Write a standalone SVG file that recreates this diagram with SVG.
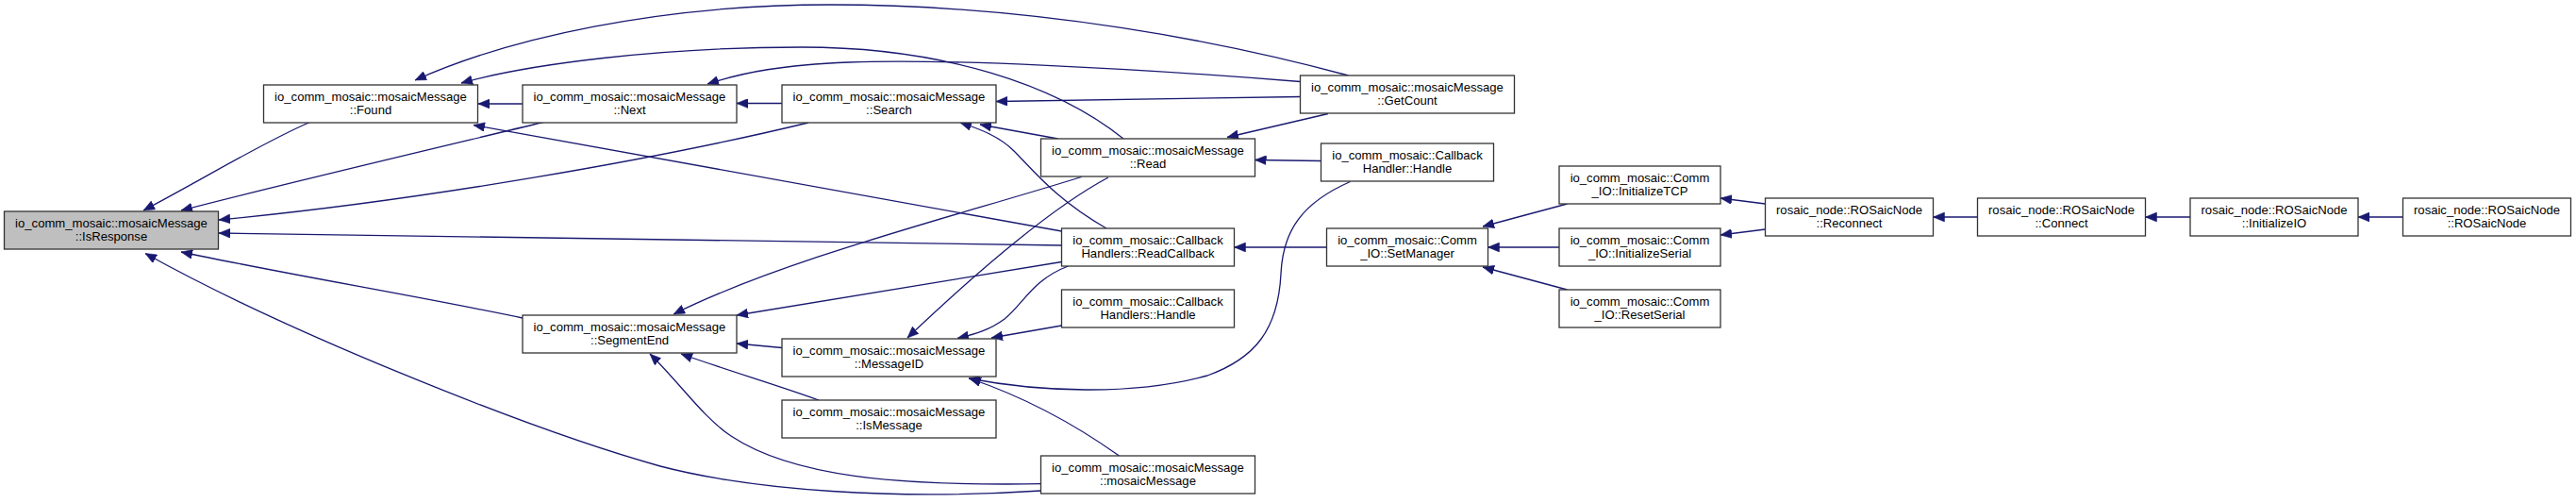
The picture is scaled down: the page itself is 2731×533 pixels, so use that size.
<svg xmlns="http://www.w3.org/2000/svg" width="2731" height="533" viewBox="0 0 2731 533">
<style>
.n rect{fill:#ffffff;stroke:#333333;stroke-width:1.3}
.n.sel rect{fill:#bfbfbf}
.n text{font-family:"Liberation Sans",Arial,sans-serif;font-size:13.1px;fill:#000;text-anchor:middle}
.e path{fill:none;stroke:#191970;stroke-width:1.3;marker-end:url(#ah)}
</style>
<defs>
<marker id="ah" markerUnits="userSpaceOnUse" viewBox="0 0 12 10" markerWidth="12" markerHeight="10" refX="12" refY="5" orient="auto">
<path d="M0,0 L12,5 L0,10 z" fill="#191970" stroke="#191970" stroke-width="0.5"/>
</marker>
</defs>
<rect x="0" y="0" width="2731" height="533" fill="#ffffff"/>
<g id="edges" class="e">
<path d="M328.6,129.5 C280,150 215,190 152,223"/>
<path d="M576,129.5 C470,155 300,195 192,223"/>
<path d="M857,130 C700,168 450,212 232,233"/>
<path d="M1125.5,260 L232,247"/>
<path d="M554,337 C450,315 300,290 192,267"/>
<path d="M1104,520 C950,530 800,520 700,494 C560,455 300,350 154,268.5"/>
<path d="M554,110 L507,110"/>
<path d="M1429.5,80 C1300,45 1100,5 880,5 C700,5 540,40 440,85"/>
<path d="M1191,147 C1120,90 1000,50 850,50 C700,50 560,68 489,88"/>
<path d="M1125.5,245 L502,132.5"/>
<path d="M829,109.5 L781,109.5"/>
<path d="M1378.5,86.5 C1200,72 1000,62 900,66 C830,69 790,76 750,89"/>
<path d="M1378.5,102.5 L1056,107.5"/>
<path d="M1408,120.5 L1301,145.5"/>
<path d="M1121.5,147 L1039,132"/>
<path d="M1173,242 C1120,212 1095,180 1075,160 C1060,145 1040,137 1018,130"/>
<path d="M1400.5,170.5 L1330.5,169.5"/>
<path d="M1406.5,262 L1308.5,262"/>
<path d="M1146.5,187.5 C1010,230 830,275 714,333"/>
<path d="M1125.5,277.5 L781,334"/>
<path d="M829,368.5 L781,364"/>
<path d="M868,424 C830,410 770,392 722,375"/>
<path d="M1104,512.7 C950,515 840,505 775,462 C745,442 720,405 689,375"/>
<path d="M1175,188 C1130,212 1060,265 962,358"/>
<path d="M1132.5,282 C1095,296 1085,322 1065,338 C1050,349 1035,354 1015,358.5"/>
<path d="M1125.5,345 L1051,358"/>
<path d="M1431.5,192.5 C1380,215 1360,245 1358,290 C1355,350 1330,380 1280,398 C1200,420 1100,415 1027,401"/>
<path d="M1186.5,483 C1140,450 1090,422 1028,401"/>
<path d="M1661.5,216 L1572,240"/>
<path d="M1653,262 L1577.5,262"/>
<path d="M1661.5,307 L1572,283"/>
<path d="M1871.5,216 L1824,210"/>
<path d="M1871.5,243 L1824,249"/>
<path d="M2096.5,230 L2049.5,230"/>
<path d="M2322,230 L2274.5,230"/>
<path d="M2547.5,230 L2500,230"/>
</g>
<g id="IsResponse" class="n sel"><rect x="4.5" y="224" width="227" height="40"/><text x="118" y="240.5">io_comm_mosaic::mosaicMessage</text><text x="118" y="255">::IsResponse</text></g>
<g id="Found" class="n"><rect x="279.5" y="90" width="227" height="40"/><text x="393" y="106.5">io_comm_mosaic::mosaicMessage</text><text x="393" y="121">::Found</text></g>
<g id="Next" class="n"><rect x="554" y="90" width="227" height="40"/><text x="667.5" y="106.5">io_comm_mosaic::mosaicMessage</text><text x="667.5" y="121">::Next</text></g>
<g id="SegmentEnd" class="n"><rect x="554" y="334" width="227" height="40"/><text x="667.5" y="350.5">io_comm_mosaic::mosaicMessage</text><text x="667.5" y="365">::SegmentEnd</text></g>
<g id="Search" class="n"><rect x="829" y="90" width="227" height="40"/><text x="942.5" y="106.5">io_comm_mosaic::mosaicMessage</text><text x="942.5" y="121">::Search</text></g>
<g id="MessageID" class="n"><rect x="829" y="359" width="227" height="40"/><text x="942.5" y="375.5">io_comm_mosaic::mosaicMessage</text><text x="942.5" y="390">::MessageID</text></g>
<g id="IsMessage" class="n"><rect x="829" y="424" width="227" height="40"/><text x="942.5" y="440.5">io_comm_mosaic::mosaicMessage</text><text x="942.5" y="455">::IsMessage</text></g>
<g id="Read" class="n"><rect x="1103.5" y="147" width="227" height="40"/><text x="1217" y="163.5">io_comm_mosaic::mosaicMessage</text><text x="1217" y="178">::Read</text></g>
<g id="ReadCallback" class="n"><rect x="1125.5" y="242" width="183" height="40"/><text x="1217" y="258.5">io_comm_mosaic::Callback</text><text x="1217" y="273">Handlers::ReadCallback</text></g>
<g id="HandlersHandle" class="n"><rect x="1125.5" y="307" width="183" height="40"/><text x="1217" y="323.5">io_comm_mosaic::Callback</text><text x="1217" y="338">Handlers::Handle</text></g>
<g id="mosaicMessage" class="n"><rect x="1103.5" y="483" width="227" height="40"/><text x="1217" y="499.5">io_comm_mosaic::mosaicMessage</text><text x="1217" y="514">::mosaicMessage</text></g>
<g id="GetCount" class="n"><rect x="1378.5" y="80" width="227" height="40"/><text x="1492" y="96.5">io_comm_mosaic::mosaicMessage</text><text x="1492" y="111">::GetCount</text></g>
<g id="HandlerHandle" class="n"><rect x="1400.5" y="152" width="183" height="40"/><text x="1492" y="168.5">io_comm_mosaic::Callback</text><text x="1492" y="183">Handler::Handle</text></g>
<g id="SetManager" class="n"><rect x="1406.5" y="242" width="171" height="40"/><text x="1492" y="258.5">io_comm_mosaic::Comm</text><text x="1492" y="273">_IO::SetManager</text></g>
<g id="InitializeTCP" class="n"><rect x="1653" y="176" width="171" height="40"/><text x="1738.5" y="192.5">io_comm_mosaic::Comm</text><text x="1738.5" y="207">_IO::InitializeTCP</text></g>
<g id="InitializeSerial" class="n"><rect x="1653" y="242" width="171" height="40"/><text x="1738.5" y="258.5">io_comm_mosaic::Comm</text><text x="1738.5" y="273">_IO::InitializeSerial</text></g>
<g id="ResetSerial" class="n"><rect x="1653" y="307" width="171" height="40"/><text x="1738.5" y="323.5">io_comm_mosaic::Comm</text><text x="1738.5" y="338">_IO::ResetSerial</text></g>
<g id="Reconnect" class="n"><rect x="1871.5" y="210" width="178" height="40"/><text x="1960.5" y="226.5">rosaic_node::ROSaicNode</text><text x="1960.5" y="241">::Reconnect</text></g>
<g id="Connect" class="n"><rect x="2096.5" y="210" width="178" height="40"/><text x="2185.5" y="226.5">rosaic_node::ROSaicNode</text><text x="2185.5" y="241">::Connect</text></g>
<g id="InitializeIO" class="n"><rect x="2322" y="210" width="178" height="40"/><text x="2411" y="226.5">rosaic_node::ROSaicNode</text><text x="2411" y="241">::InitializeIO</text></g>
<g id="ROSaicNode" class="n"><rect x="2547.5" y="210" width="178" height="40"/><text x="2636.5" y="226.5">rosaic_node::ROSaicNode</text><text x="2636.5" y="241">::ROSaicNode</text></g>
</svg>
